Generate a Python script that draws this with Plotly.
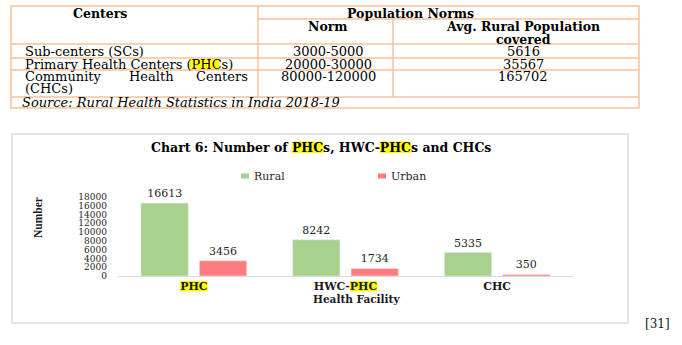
import glob
import plotly.graph_objects as go

# ---------------- data ----------------
facilities = ["PHC", "HWC-PHC", "CHC"]
rural = [16613, 8242, 5335]
urban = [3456, 1734, 350]
y_ticks = [0, 2000, 4000, 6000, 8000, 10000, 12000, 14000, 16000, 18000]

table_header = ["Centers", "Population Norms", "Norm", "Avg. Rural Population", "covered"]
table_centers = ["Sub-centers (SCs)", "Primary Health Centers (PHCs)", "Community Health Centers (CHCs)"]
table_norms = ["3000-5000", "20000-30000", "80000-120000"]
table_avg = ["5616", "35567", "165702"]
table_source = "Source: Rural Health Statistics in India 2018-19"
chart_title = "Chart 6: Number of PHCs, HWC-PHCs and CHCs"

# ---------------- layout helpers ----------------
W, H = 682, 345
PL, PR, PT, PB = 118, 573, 197, 276  # plot area in pixels
SERIF = "DejaVu Serif"
TIMES = "Liberation Serif"


def _font(size, bold=False, italic=False):
    try:
        from PIL import ImageFont
        suf = "-BoldItalic" if bold and italic else "-Bold" if bold else "-Italic" if italic else ""
        paths = glob.glob("/usr/share/fonts/**/DejaVuSerif" + suf + ".ttf", recursive=True)
        return ImageFont.truetype(paths[0], size)
    except Exception:
        return None


def tw(s, size, bold=False):
    f = _font(int(round(size)), bold)
    if f is not None:
        return f.getlength(s) * size / int(round(size))
    return len(s) * size * (0.66 if bold else 0.58)


def px(x):
    return (x - PL) / (PR - PL)


def py(y):
    return (PB - y) / (PB - PT)


annotations = []
shapes = []


def text(x, y, s, size=13, bold=False, italic=False, anchor="center", family=SERIF, color="#000000", angle=0):
    if bold:
        s = "<b>" + s + "</b>"
    if italic:
        s = "<i>" + s + "</i>"
    annotations.append(dict(x=px(x), y=py(y), xref="paper", yref="paper", text=s, showarrow=False,
                            xanchor=anchor, yanchor="middle", textangle=angle,
                            font=dict(family=family, size=size, color=color)))


def line(x0, y0, x1, y1, color="#F5C19E", width=1.5):
    shapes.append(dict(type="line", xref="paper", yref="paper", x0=px(x0), y0=py(y0), x1=px(x1), y1=py(y1),
                       line=dict(color=color, width=width)))


def rect(x0, y0, x1, y1, fill=None, color=None, width=0, layer="below"):
    shapes.append(dict(type="rect", xref="paper", yref="paper", x0=px(x0), y0=py(y0), x1=px(x1), y1=py(y1),
                       fillcolor=fill or "rgba(0,0,0,0)", line=dict(color=color or "rgba(0,0,0,0)", width=width),
                       layer=layer))


def highlight(full, prefix, word, x, anchor, size, bold, y0, y1):
    total = tw(full, size, bold)
    if anchor == "center":
        start = x - total / 2
    elif anchor == "left":
        start = x
    else:
        start = x - total
    a = start + tw(prefix, size, bold)
    b = a + tw(word, size, bold)
    rect(a, y0, b, y1, fill="#FFFF00")


# ---------------- table ----------------
TL, TR, TT, TB = 11, 639, 6, 108
C1, C2 = 258, 393
rect(TL, TT, TR, TB, color="#F5C19E", width=1.5)
line(C1, TT, C1, 97)
line(C2, 19, C2, 97)
line(C1, 19, TR, 19)
for yy in (44, 58, 70, 97):
    line(TL, yy, TR, yy)

text(100, 13, table_header[0], 12.5, bold=True)
text(410, 13, table_header[1], 12.5, bold=True)
text(328, 26, table_header[2], 12.5, bold=True)
text(523, 26, table_header[3], 12.5, bold=True)
text(523, 39, table_header[4], 12.5, bold=True)

BS = 13
text(23, 51, table_centers[0], BS, anchor="left")
text(23, 64, table_centers[1], BS, anchor="left")
highlight(table_centers[1], "Primary Health Centers (", "PHC", 23, "left", BS, False, 59, 69.5)
w3 = table_centers[2].split(" ")
text(23, 77, w3[0], BS, anchor="left")
text(151, 77, w3[1], BS)
text(250, 77, w3[2], BS, anchor="right")
text(23, 89, w3[3], BS, anchor="left")
for i, (n, a) in enumerate(zip(table_norms, table_avg)):
    yy = [51, 64, 77][i]
    text(328, yy, n, BS)
    text(523, yy, a, BS)
text(20, 102.5, table_source, BS, italic=True, anchor="left")

# ---------------- chart frame / title / legend ----------------
rect(12, 134, 628, 323, color="#DCDCDC", width=1.5)
TS = 12.5
text(321, 147, chart_title, TS, bold=True)
i1 = chart_title.index("PHC")
i2 = chart_title.index("PHC", i1 + 1)
highlight(chart_title, chart_title[:i1], "PHC", 321, "center", TS, True, 141.5, 153)
highlight(chart_title, chart_title[:i2], "PHC", 321, "center", TS, True, 141.5, 153)

rect(241, 173.5, 249, 178.5, fill="#A9D18E")
text(252, 176, "Rural", 11, anchor="left", color="#262626")
rect(378, 173.5, 386, 178.5, fill="#FF7C80")
text(389, 176, "Urban", 11, anchor="left", color="#262626")

# category tick label highlights
TKS = 11
n = len(facilities)
for i, lab in enumerate(facilities):
    if "PHC" in lab:
        cx = PL + (i + 0.5) * (PR - PL) / n
        k = lab.index("PHC")
        highlight(lab, lab[:k], "PHC", cx, "center", TKS, True, 281, 291.5)

text(38, 218, "Number", 11.5, bold=True, family=TIMES, angle=-90, color="#1a1a1a")
text(356, 299, "Health Facility", 10.5, bold=True, color="#1a1a1a")
text(643, 324, "[31]", 12, anchor="left", color="#1a1a1a")

# ---------------- bars ----------------
fig = go.Figure()
fig.add_trace(go.Bar(name="Rural", x=facilities, y=rural, marker=dict(color="#A9D18E"),
                     text=[str(v) for v in rural], textposition="outside", cliponaxis=False,
                     textfont=dict(family=SERIF, size=11, color="#262626")))
fig.add_trace(go.Bar(name="Urban", x=facilities, y=urban, marker=dict(color="#FF7C80"),
                     text=[str(v) for v in urban], textposition="outside", cliponaxis=False,
                     textfont=dict(family=SERIF, size=11, color="#262626")))

fig.update_layout(
    width=W, height=H,
    margin=dict(l=PL, r=W - PR, t=PT, b=H - PB, pad=0),
    paper_bgcolor="white", plot_bgcolor="rgba(0,0,0,0)",
    barmode="group", bargap=0.23, bargroupgap=0.19,
    showlegend=False,
    annotations=annotations, shapes=shapes,
    font=dict(family=SERIF),
)
fig.update_xaxes(showline=True, linecolor="#D9D9D9", linewidth=1, showgrid=False, zeroline=False,
                 ticks="", tickfont=dict(family=SERIF, size=TKS, color="#1a1a1a", weight="bold"),
                 fixedrange=True)
fig.update_yaxes(range=[0, 18000], tickvals=y_ticks, ticktext=[str(v) for v in y_ticks],
                 showgrid=False, zeroline=False, showline=False, ticks="",
                 tickfont=dict(family=SERIF, size=9, color="#262626"), ticklabelstandoff=10,
                 fixedrange=True)

fig.write_html("out.html")
